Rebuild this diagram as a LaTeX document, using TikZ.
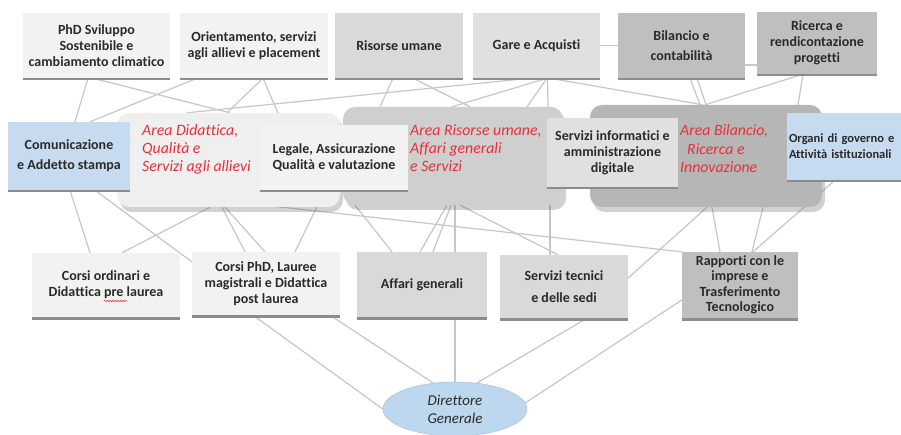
\documentclass[tikz,border=0pt]{standalone}
\usepackage{fontspec}
\setmainfont{Carlito}[Ligatures=NoCommon]
\usetikzlibrary{shadows,calc,shapes.geometric,decorations.pathmorphing}
\pgfdeclarelayer{background}
\pgfsetlayers{background,main}
\definecolor{txt}{HTML}{2A2A2A}
\definecolor{redtxt}{HTML}{E8303A}
\definecolor{lightbox}{HTML}{F2F2F2}
\definecolor{midbox}{HTML}{D9D9D9}
\definecolor{gareC}{HTML}{E0E0E0}
\definecolor{darkbox}{HTML}{BFBFBF}
\definecolor{bluebox}{HTML}{C6DBF0}
\definecolor{ellC}{HTML}{BDD7EE}
\definecolor{areaA}{HTML}{EFEFEF}
\definecolor{areaB}{HTML}{CFCFCF}
\definecolor{areaC}{HTML}{B6B6B6}
\definecolor{linkC}{HTML}{C6C6C6}
\tikzset{
  box/.style={rectangle, draw=none, align=center, text=txt, inner sep=2pt,
    font=\fontsize{14}{16}\selectfont\bfseries,
    general shadow={shadow yshift=-2.5pt, fill=black!45}},
  area/.style={rectangle, rounded corners=12pt, draw=none,
    drop shadow={shadow xshift=3pt, shadow yshift=-5pt, opacity=0.3, fill=black!60}},
  redlbl/.style={text=redtxt, font=\fontsize{15.8}{18}\selectfont\itshape, anchor=base west, inner sep=0pt},
  link/.style={draw=linkC, line width=1.2pt},
}
\begin{document}
\begin{tikzpicture}[x=1pt,y=-1pt]
\useasboundingbox (0,0) rectangle (901,435);
\clip (0,0) rectangle (901,435);
% areas
\node[area, fill=areaA, minimum width=223pt, minimum height=94pt] (areaDid) at (228.5,160) {};
\node[area, fill=areaB, minimum width=220pt, minimum height=98pt] (areaRis) at (453,156) {};
\node[area, fill=areaC, minimum width=232pt, minimum height=102pt] (areaBil) at (706,156) {};
% red labels
\node[redlbl] (rd1) at (142,136) {Area Didattica,};
\node[redlbl] (rd2) at (142,154) {Qualità e};
\node[redlbl] (rd3) at (142,172) {Servizi agli allievi};
\node[redlbl] (rr1) at (410,136) {Area Risorse umane,};
\node[redlbl] (rr2) at (410,154) {Affari generali};
\node[redlbl] (rr3) at (410,172) {e Servizi};
\node[redlbl] (rb1) at (680,136) {Area Bilancio,};
\node[redlbl] (rb2) at (687,155) {Ricerca e};
\node[redlbl] (rb3) at (680,173) {Innovazione};
% top row
\node[box, fill=lightbox, minimum width=147pt, minimum height=65pt] (phd) at (96.5,45.5) {PhD Sviluppo\\Sostenibile e\\cambiamento climatico};
\node[box, fill=lightbox, minimum width=148pt, minimum height=65pt] (orient) at (254,45.5) {Orientamento, servizi\\agli allievi e placement};
\node[box, fill=midbox, minimum width=128pt, minimum height=65pt] (risorse) at (399,45.5) {Risorse umane};
\node[box, fill=gareC, minimum width=127pt, minimum height=65pt] (gare) at (536.5,45.5) {Gare e Acquisti};
\node[box, fill=darkbox, minimum width=127pt, minimum height=65pt] (bilancio) at (681.5,45.5) {Bilancio e\\[4pt]contabilità};
\node[box, fill=darkbox, minimum width=120pt, minimum height=62pt] (ricerca) at (817,43) {Ricerca e\\rendicontazione\\progetti};
% middle row
\node[box, fill=bluebox, minimum width=122pt, minimum height=68pt] (comm) at (69,156) {Comunicazione\\[4pt]e Addetto stampa};
\node[box, fill=lightbox, minimum width=148pt, minimum height=65pt] (legale) at (334,157.5) {Legale, Assicurazione\\Qualità e valutazione};
\node[box, fill=gareC, minimum width=131pt, minimum height=69pt] (servInf) at (612.5,152.5) {Servizi informatici e\\amministrazione\\digitale};
\node[box, fill=bluebox, minimum width=142pt, minimum height=67pt, text width=138pt, align=left, inner sep=2pt, font=\fontsize{12.5}{16}\selectfont\bfseries] (organi) at (858,146.5) {Organi di governo e\\Attività istituzionali};
% bottom row
\node[box, fill=lightbox, minimum width=148pt, minimum height=64pt] (corsiOrd) at (106,285) {Corsi ordinari e\\Didattica pre laurea};
\node[box, fill=lightbox, minimum width=148pt, minimum height=63pt] (corsiPhD) at (266,283.5) {Corsi PhD, Lauree\\magistrali e Didattica\\post laurea};
\node[box, fill=midbox, minimum width=130pt, minimum height=65pt] (affari) at (422,284.5) {Affari generali};
\node[box, fill=midbox, minimum width=128pt, minimum height=63pt] (servTec) at (564,286.5) {Servizi tecnici\\[6pt]e delle sedi};
\node[box, fill=darkbox, minimum width=116pt, minimum height=66pt, font=\fontsize{14}{15.5}\selectfont\bfseries] (rapporti) at (740,285) {Rapporti con le\\imprese e\\Trasferimento\\Tecnologico};
% ellipse
\node[ellipse, fill=ellC, draw=ellC!90!black, line width=0.5pt, minimum width=144pt, minimum height=54pt, inner sep=0pt, align=center, text=txt, font=\fontsize{15}{18}\selectfont\itshape] (dg) at (455,409) {Direttore\\Generale};
% spell-check squiggle
\draw[red!80, line width=0.6pt, decorate, decoration={snake, amplitude=0.7pt, segment length=2.6pt}] (104,301) -- (127,301);
\begin{pgfonlayer}{background}
% top to middle
\draw[link] ([xshift=-8.5pt]phd.south) -- ([xshift=6pt]comm.north);
\draw[link] ([xshift=-4pt]phd.south) -- ([xshift=1.5pt]areaDid.north);
\draw[link] ([xshift=-57pt]orient.south) -- ([xshift=21pt]comm.north);
\draw[link] ([xshift=9pt]orient.south) -- ([xshift=-1.5pt]areaDid.north);
\draw[link] ([xshift=9pt]orient.south) -- ([xshift=-51pt]legale.north);
\draw[link] ([xshift=-6.5pt]gare.south) -- ([xshift=-41.5pt]areaDid.north);
\draw[link] ([xshift=-6pt]risorse.south) -- ([xshift=-73pt]areaRis.north);
\draw[link] ([xshift=14pt]risorse.south) -- ([xshift=17pt]areaRis.north);
\draw[link] ([xshift=10.5pt]gare.south) -- ([xshift=-1pt]areaRis.north);
\draw[link] ([xshift=10.5pt]gare.south) -- ([xshift=74pt]areaRis.north);
\draw[link] ([xshift=11pt]gare.south) -- ([xshift=95pt]areaRis.north);
\draw[link] ([xshift=13pt]gare.south) -- ([xshift=-3pt]areaBil.north);
\draw[link] ([xshift=8.5pt]bilancio.south) -- ([xshift=-6pt]areaBil.north);
\draw[link] ([xshift=15.5pt]bilancio.south) -- (areaBil.north);
\draw[link] ([xshift=-14pt]ricerca.south) -- ([xshift=-1pt]areaBil.north);
\draw[link] ([xshift=-14pt]ricerca.south) -- ([xshift=92pt]areaBil.north);
\draw[link] (gare.east) -- (bilancio.west);
\draw[link] ([yshift=-19.5pt]bilancio.east) -- ([yshift=-22pt]ricerca.west);
% middle to bottom
\draw[link] ([xshift=1pt]comm.south) -- ([xshift=-16pt]corsiOrd.north);
\draw[link] ([xshift=26pt]comm.south) -- ([yshift=-10pt]corsiPhD.north west);
\draw[link] (comm.south east) -- (rapporti.north west);
\draw[link] ([xshift=-18.5pt]areaDid.south) -- ([xshift=16pt]corsiOrd.north);
\draw[link] ([xshift=-6.5pt]areaDid.south) -- ([xshift=-21pt]corsiPhD.north);
\draw[link] ([xshift=-3.5pt]areaDid.south) -- ([xshift=-1pt]corsiPhD.north);
\draw[link] ([xshift=-9pt]legale.south) -- ([xshift=29pt]corsiPhD.north);
\draw[link] ([xshift=-98pt]areaRis.south) -- ([xshift=-30pt]affari.north);
\draw[link] ([xshift=-6pt]areaRis.south) -- ([xshift=-2pt]affari.north);
\draw[link] ([xshift=-2pt]areaRis.south) -- ([xshift=11pt]affari.north);
\draw[link] ([xshift=2pt]areaRis.south) -- ([xshift=33pt]affari.north);
\draw[link] ([xshift=7pt]areaRis.south) -- ([xshift=-6pt]servTec.north);
\draw[link] ([xshift=97pt]areaRis.south) -- ([xshift=-14pt]servTec.north);
\draw[link] ([xshift=1pt]areaBil.south) -- ([yshift=8.5pt]servTec.east);
\draw[link] ([xshift=6pt]areaBil.south) -- ([xshift=-20pt]rapporti.north);
\draw[link] ([xshift=57pt]areaBil.south) -- ([xshift=12pt]rapporti.north);
\draw[link] ([xshift=-23pt]organi.south) -- ([xshift=13pt]rapporti.north);
% bottom to director
\draw[link] ([xshift=-13pt]corsiPhD.south) -- (dg.west);
\draw[link] ([xshift=64pt]corsiPhD.south) -- (dg.130);
\draw[link] ([xshift=33pt]affari.south) -- (dg.north);
\draw[link] ([xshift=23pt]servTec.south) -- (dg.50);
\draw[link] ([yshift=-15pt]rapporti.west) -- (dg.5);
\end{pgfonlayer}
\end{tikzpicture}
\end{document}
